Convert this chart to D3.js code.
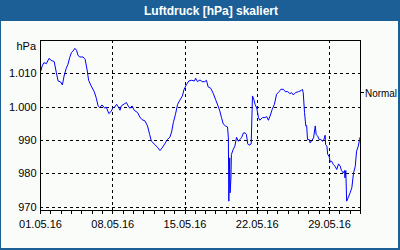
<!DOCTYPE html>
<html>
<head>
<meta charset="utf-8">
<script src="https://cdn.jsdelivr.net/npm/d3@7"></script>
<style>
    body { margin: 0; background: #fafcfa; }
    svg { display: block; font-family: "Liberation Sans", Arial, sans-serif; }
</style>
</head>
<body>
<div id="chart"></div>
<script>
// Chart title and axis texts
var title = "Luftdruck [hPa] skaliert";
var unit = "hPa";
var normalLabel = "Normal";
var normalValue = 1004.3;

// Hours since 01.05.16 00:00
var hours = [2, 5, 9, 15, 21, 26, 33, 38, 42, 48, 52, 56, 61, 65, 69, 73, 77, 81, 85, 88,
    92, 100, 105, 110, 113, 119, 126, 131, 135, 139, 144, 151, 154, 160, 165, 170, 174, 178, 183, 186,
    189, 197, 201, 205, 209, 214, 219, 227, 232, 237, 244, 250, 255, 259, 267, 273, 279, 284, 290, 296,
    302, 306, 310, 315, 320, 325, 331, 335, 341, 346, 352, 359, 362, 366, 372, 377, 383, 387, 391, 397,
    403, 408, 414, 418, 422, 426, 431, 436, 438, 439, 441, 442, 444, 445, 449, 453, 457, 461, 465, 469,
    473, 477, 480, 483, 486, 491, 494, 497, 500, 504, 508, 511, 517, 523, 527, 531, 535, 540, 545, 550,
    556, 560, 566, 570, 576, 581, 585, 589, 594, 601, 607, 610, 612, 615, 618, 620, 622, 626, 628, 632,
    636, 640, 642, 646, 649, 653, 657, 660, 663, 664, 667, 669, 672, 675, 678, 682, 686, 690, 694, 698,
    701, 705, 708, 709, 711, 713, 717, 721, 725, 729, 733, 736, 740, 743, 744];

// Air pressure in hPa
var pressure = [1010.7, 1012.2, 1013.2, 1012.9, 1014.5, 1013.9, 1013.5, 1010.2, 1007.7, 1007.4, 1006.5, 1009.2, 1011.5, 1012.7, 1014.7, 1016.2, 1016.7, 1017.5, 1016.9, 1015.5,
    1014.9, 1014.9, 1014.2, 1010.7, 1007.9, 1006.2, 1004.5, 1002.5, 1000.2, 999.7, 1000.5, 999.5, 999.9, 997.9, 998.5, 999.7, 999.9, 1000.7, 999.7, 998.9,
    1000.2, 1000.9, 1001.2, 1000.2, 999.5, 1000.2, 998.9, 998.2, 996.9, 996.1, 995.7, 994.2, 991.6, 989.6, 988.6, 987.8, 986.8, 987.6, 988.8, 990.1,
    990.8, 992.4, 995.2, 997.7, 1000.7, 1001.9, 1003.2, 1005.2, 1006.7, 1007.7, 1007.9, 1007.7, 1008.5, 1007.5, 1008.0, 1007.5, 1007.5, 1007.9, 1005.9, 1005.5,
    1003.9, 1002.2, 1000.2, 998.7, 996.7, 994.8, 994.2, 993.9, 990.6, 971.6, 984.6, 974.1, 978.6, 985.6, 987.1, 988.1, 990.8, 989.6, 990.1, 990.8,
    992.1, 992.1, 991.6, 988.8, 988.4, 988.8, 1003.2, 1002.2, 1000.7, 999.5, 996.7, 995.9, 996.7, 996.7, 997.0, 995.9, 997.2, 999.2, 1000.7, 1003.7,
    1004.5, 1005.2, 1005.2, 1004.5, 1004.5, 1003.9, 1004.2, 1003.5, 1004.2, 1004.5, 1004.8, 1005.2, 1004.2, 998.2, 994.2, 994.3, 990.1, 990.1, 989.1, 989.8,
    990.6, 994.2, 991.6, 991.1, 990.1, 990.1, 989.6, 990.1, 991.4, 988.6, 988.1, 985.6, 985.1, 983.4, 983.6, 982.6, 982.1, 981.1, 982.8, 982.1,
    980.8, 980.1, 980.8, 978.6, 980.8, 971.6, 972.8, 974.1, 975.6, 980.1, 982.1, 986.6, 988.1, 990.1, 990.8];

// Tick values
var yTicks = [970, 980, 990, 1000, 1010];
var weekTicks = ["2016-05-01", "2016-05-08", "2016-05-15", "2016-05-22", "2016-05-29"];

function init() {

    var w = 400;
    var h = 250;
    var left = 40, right = 360, top = 40, bottom = 210;

    var start = new Date(2016, 4, 1);
    var end = new Date(2016, 5, 1);
    var parse = d3.timeParse("%Y-%m-%d");

    var data = hours.map(function(hr, i) {
        return { date: d3.timeHour.offset(start, hr), value: pressure[i] };
    });

    var x = d3.scaleTime()
                .domain([start, end])
                .range([left, right]);

    var y = d3.scaleLinear()
                .domain([968.95, 1020])
                .range([bottom, top]);

    var de = d3.formatLocale({ decimal: ",", thousands: ".", grouping: [3], currency: ["", " €"] });
    var fmtY = de.format(",d");
    var fmtX = d3.timeFormat("%d.%m.%y");

    var svg = d3.select("#chart")
                .append("svg")
                .attr("width", w)
                .attr("height", h);

    // frame and title bar
    svg.append("rect")
        .attr("width", w).attr("height", h)
        .attr("fill", "#1c5f96");
    svg.append("rect")
        .attr("x", 1).attr("y", 21)
        .attr("width", w - 3).attr("height", h - 23)
        .attr("fill", "#fafcfa");
    svg.append("text")
        .attr("x", 211).attr("y", 15)
        .attr("text-anchor", "middle")
        .attr("fill", "#fff")
        .style("font-size", "12px")
        .style("font-weight", "bold")
        .text(title);

    // grid lines
    var grid = svg.append("g")
                .attr("stroke", "#000")
                .attr("stroke-dasharray", "3,3")
                .attr("shape-rendering", "crispEdges");

    grid.selectAll("line.h")
        .data(yTicks)
        .enter()
        .append("line")
        .attr("x1", left).attr("x2", right)
        .attr("y1", function(d) { return Math.round(y(d)) + 0.5; })
        .attr("y2", function(d) { return Math.round(y(d)) + 0.5; });

    grid.selectAll("line.v")
        .data(weekTicks.slice(1))
        .enter()
        .append("line")
        .attr("y1", top).attr("y2", bottom)
        .attr("x1", function(d) { return Math.round(x(parse(d))) + 0.5; })
        .attr("x2", function(d) { return Math.round(x(parse(d))) + 0.5; });

    // the pressure line
    var line = d3.line()
                .x(function(d) { return x(d.date); })
                .y(function(d) { return y(d.value); });

    svg.append("path")
        .datum(data)
        .attr("d", line)
        .attr("fill", "none")
        .attr("stroke", "#0000ff")
        .attr("stroke-width", 1);

    // plot box
    svg.append("rect")
        .attr("x", left + 0.5).attr("y", top + 0.5)
        .attr("width", right - left).attr("height", bottom - top)
        .attr("fill", "none")
        .attr("stroke", "#000")
        .attr("shape-rendering", "crispEdges");

    // x axis: daily ticks, weekly labels
    svg.append("g")
        .attr("transform", "translate(0," + (bottom + 0.5) + ")")
        .call(d3.axisBottom(x).ticks(d3.timeDay.every(1)).tickSize(3).tickFormat(""))
        .call(function(g) { g.select(".domain").remove(); })
        .attr("shape-rendering", "crispEdges");

    svg.append("g")
        .attr("transform", "translate(0," + (bottom + 0.5) + ")")
        .call(d3.axisBottom(x).tickValues(weekTicks.map(parse)).tickSize(3).tickPadding(7).tickFormat(fmtX))
        .call(function(g) {
            g.select(".domain").remove();
            g.selectAll("text").attr("fill", "#000").style("font-size", "11px").style("font-family", "Liberation Sans, Arial, sans-serif");
        })
        .attr("shape-rendering", "crispEdges");

    // y axis labels
    svg.append("g")
        .attr("transform", "translate(" + (left + 0.5) + ",0)")
        .call(d3.axisLeft(y).tickValues(yTicks).tickSize(0).tickPadding(4).tickFormat(fmtY))
        .call(function(g) {
            g.select(".domain").remove();
            g.selectAll("text").attr("fill", "#000").style("font-size", "11px").style("font-family", "Liberation Sans, Arial, sans-serif");
        });

    svg.append("text")
        .attr("x", 36).attr("y", 50)
        .attr("text-anchor", "end")
        .style("font-size", "11px")
        .text(unit);

    // normal marker on right side
    var yn = Math.round(y(normalValue)) + 0.5;
    svg.append("line")
        .attr("x1", right).attr("x2", right + 4)
        .attr("y1", yn).attr("y2", yn)
        .attr("stroke", "#000")
        .attr("shape-rendering", "crispEdges");
    svg.append("text")
        .attr("x", right + 5).attr("y", yn + 4)
        .attr("textLength", 32)
        .attr("lengthAdjust", "spacingAndGlyphs")
        .style("font-size", "11px")
        .text(normalLabel);
}

window.onload = init;
</script>
</body>
</html>
